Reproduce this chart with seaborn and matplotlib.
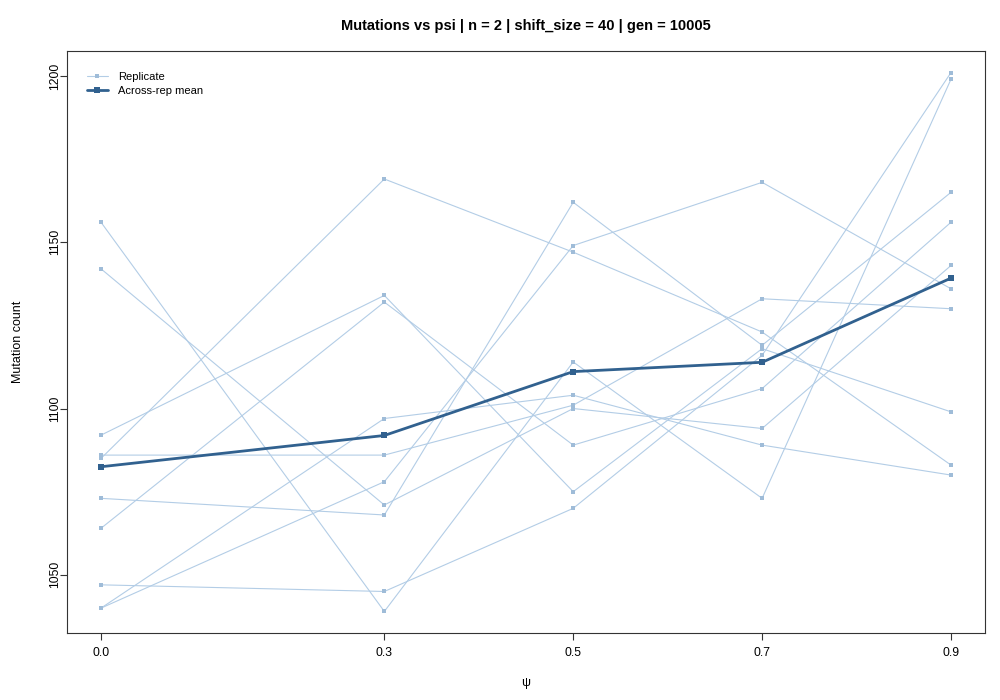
import matplotlib
matplotlib.use("Agg")
import matplotlib.pyplot as plt
import seaborn as sns
import pandas as pd
from matplotlib.lines import Line2D

# ---- data ----
psi = [0.0, 0.3, 0.5, 0.7, 0.9]
psi_labels = ["0.0", "0.3", "0.5", "0.7", "0.9"]
y_ticks = [1050, 1100, 1150, 1200]

rep_01 = [1156, 1039, 1114, 1073, 1199]
rep_02 = [1142, 1071, 1100, 1094, 1143]
rep_03 = [1092, 1134, 1075, 1118, 1099]
rep_04 = [1086, 1086, 1101, 1133, 1130]
rep_05 = [1085, 1169, 1147, 1123, 1083]
rep_06 = [1073, 1068, 1162, 1119, 1165]
rep_07 = [1064, 1132, 1089, 1106, 1156]
rep_08 = [1047, 1045, 1070, 1116, 1201]
rep_09 = [1040, 1097, 1104, 1089, 1080]
rep_10 = [1040, 1078, 1149, 1168, 1136]
replicates = [rep_01, rep_02, rep_03, rep_04, rep_05,
              rep_06, rep_07, rep_08, rep_09, rep_10]

title = "Mutations vs psi | n = 2 | shift_size = 40 | gen = 10005"

rows = []
for i, vals in enumerate(replicates, 1):
    for p, v in zip(psi, vals):
        rows.append({"rep": i, "psi": p, "count": v})
df = pd.DataFrame(rows)

# ---- style ----
sns.set_theme(style="white")
plt.rcParams["font.family"] = ["Liberation Sans", "DejaVu Sans"]

rep_line = "#b3cde6"
rep_pt = "#9fbcd8"
mean_c = "#31618f"
frame_c = "#333333"

fig = plt.figure(figsize=(10, 7), dpi=100)
ax = fig.add_axes([0.067, 1 - 633 / 700, 0.918, 582 / 700])

sns.lineplot(data=df, x="psi", y="count", units="rep", estimator=None,
             color=rep_line, lw=0.8, marker="s", markersize=3,
             markeredgewidth=0, markerfacecolor=rep_pt, ax=ax, legend=False)
sns.lineplot(data=df, x="psi", y="count", estimator="mean", errorbar=None,
             color=mean_c, lw=2, marker="s", markersize=5,
             markeredgewidth=0, markerfacecolor=mean_c, ax=ax, legend=False)

ax.margins(x=0.04, y=0.04)
ax.set_xticks(psi)
ax.set_xticklabels(psi_labels)
ax.set_yticks(y_ticks)
ax.set_yticklabels([str(t) for t in y_ticks])

for s in ax.spines.values():
    s.set_visible(True)
    s.set_color(frame_c)
    s.set_linewidth(0.8)

ax.tick_params(axis="both", which="major", bottom=True, left=True,
               direction="out", length=5.2, width=0.8, color=frame_c,
               labelsize=8.8, labelcolor="black")
ax.tick_params(axis="x", pad=5.2)
ax.tick_params(axis="y", pad=-1.2)
for lab in ax.get_yticklabels():
    lab.set_rotation(90)
    lab.set_va("center")

ax.set_xlabel("ψ", fontsize=9, color="black")
ax.set_ylabel("Mutation count", fontsize=9, color="black")
ax.xaxis.set_label_coords(0.5, -(683 - 633) / 582)
ax.xaxis.label.set_va("center")
ax.yaxis.set_label_coords(-(67 - 18) / 918, 0.5)
ax.yaxis.label.set_va("center")

fig.text(0.526, 1 - 26 / 700, title, ha="center", va="center",
         fontsize=10.5, fontweight="bold", color="black")

handles = [
    Line2D([], [], color=rep_line, lw=0.8, marker="s", markersize=3,
           markerfacecolor=rep_pt, markeredgewidth=0),
    Line2D([], [], color=mean_c, lw=2, marker="s", markersize=5,
           markerfacecolor=mean_c, markeredgewidth=0),
]
leg = ax.legend(handles, ["Replicate", "Across-rep mean"], loc="upper left",
                bbox_to_anchor=(0.014, 0.975), frameon=False, fontsize=8,
                handlelength=1.9, handletextpad=0.9, labelspacing=0.33,
                borderaxespad=0.2, labelcolor="black")

fig.savefig("out.png", dpi=100)
